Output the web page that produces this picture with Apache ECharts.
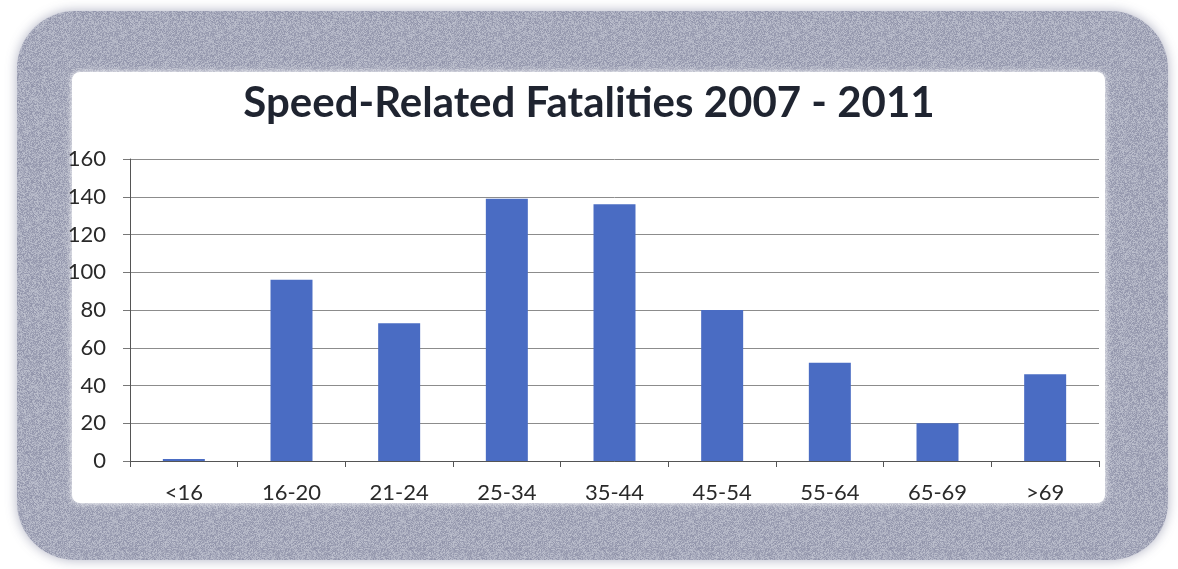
<!DOCTYPE html>
<html>
<head>
<meta charset="utf-8">
<title>Speed-Related Fatalities 2007 - 2011</title>
<script src="https://cdn.jsdelivr.net/npm/echarts@6/dist/echarts.min.js"></script>
<style>
  html, body { margin: 0; padding: 0; background: #ffffff; }
  #chart { width: 1178px; height: 569px; }
</style>
</head>
<body>
<div id="chart"></div>
<script>
// Age groups and speed-related fatality counts, 2007-2011
const ageGroups = ['<16', '16-20', '21-24', '25-34', '35-44', '45-54', '55-64', '65-69', '>69'];
const fatalities = [1, 96, 73, 139, 136, 80, 52, 20, 46];
const yTicks = { min: 0, max: 160, interval: 20 };
const chartTitle = 'Speed-Related Fatalities 2007 - 2011';

const chart = echarts.init(document.getElementById('chart'), null, { renderer: 'canvas' });

const frameGray = '#a7aabc';
const labelFont = 'Lato, "Open Sans", sans-serif';

// Speckled texture for the frame (fixed-seed generator so it is identical every run)
function speckleTexture(size) {
  const c = document.createElement('canvas');
  c.width = c.height = size;
  const ctx = c.getContext('2d');
  const img = ctx.createImageData(size, size);
  let seed = 12345;
  const next = () => { seed = (seed * 1103515245 + 12345) & 0x7fffffff; return seed / 0x7fffffff; };
  for (let i = 0; i < size * size; i++) {
    const v = (next() - 0.5) * 46;
    img.data[i * 4] = 167 + v;
    img.data[i * 4 + 1] = 170 + v;
    img.data[i * 4 + 2] = 188 + v * 0.8;
    img.data[i * 4 + 3] = 255;
  }
  ctx.putImageData(img, 0, 0);
  return c;
}
const framePattern = { image: speckleTexture(96), repeat: 'repeat' };

chart.setOption({
  backgroundColor: '#ffffff',
  animation: false,
  title: {
    text: chartTitle,
    left: 'center',
    top: 77,
    textStyle: {
      fontFamily: labelFont,
      fontWeight: 'bold',
      fontSize: 42,
      color: '#1f2430'
    }
  },
  graphic: [
    {
      // soft grey frame around the chart
      type: 'rect',
      z: -10,
      shape: { x: 17, y: 11, width: 1151, height: 549, r: 58 },
      style: { fill: framePattern, shadowBlur: 12, shadowColor: 'rgba(167,170,188,0.9)' }
    },
    {
      type: 'rect',
      z: -9,
      shape: { x: 72, y: 72, width: 1033, height: 431, r: 8 },
      style: { fill: '#ffffff', shadowBlur: 6, shadowColor: '#ffffff' }
    }
  ],
  grid: { left: 130, right: 79, top: 159, bottom: 108, containLabel: false },
  xAxis: {
    type: 'category',
    data: ageGroups,
    axisLine: { lineStyle: { color: '#555555', width: 1 } },
    axisTick: { show: true, alignWithLabel: false, length: 6, lineStyle: { color: '#555555' } },
    axisLabel: {
      margin: 21,
      fontFamily: labelFont,
      fontSize: 22,
      color: '#2a2a2a'
    },
    splitLine: { show: false }
  },
  yAxis: {
    type: 'value',
    min: yTicks.min,
    max: yTicks.max,
    interval: yTicks.interval,
    axisLine: { show: true, lineStyle: { color: '#555555', width: 1 } },
    axisTick: { show: true, length: 7, lineStyle: { color: '#777777' } },
    axisLabel: {
      margin: 24,
      fontFamily: labelFont,
      fontSize: 22,
      color: '#2a2a2a'
    },
    splitLine: { show: true, lineStyle: { color: '#8c8c8c', width: 1 } }
  },
  series: [
    {
      type: 'bar',
      data: fatalities,
      barCategoryGap: '61%',
      itemStyle: { color: '#4a6cc3' }
    }
  ]
});
</script>
</body>
</html>
